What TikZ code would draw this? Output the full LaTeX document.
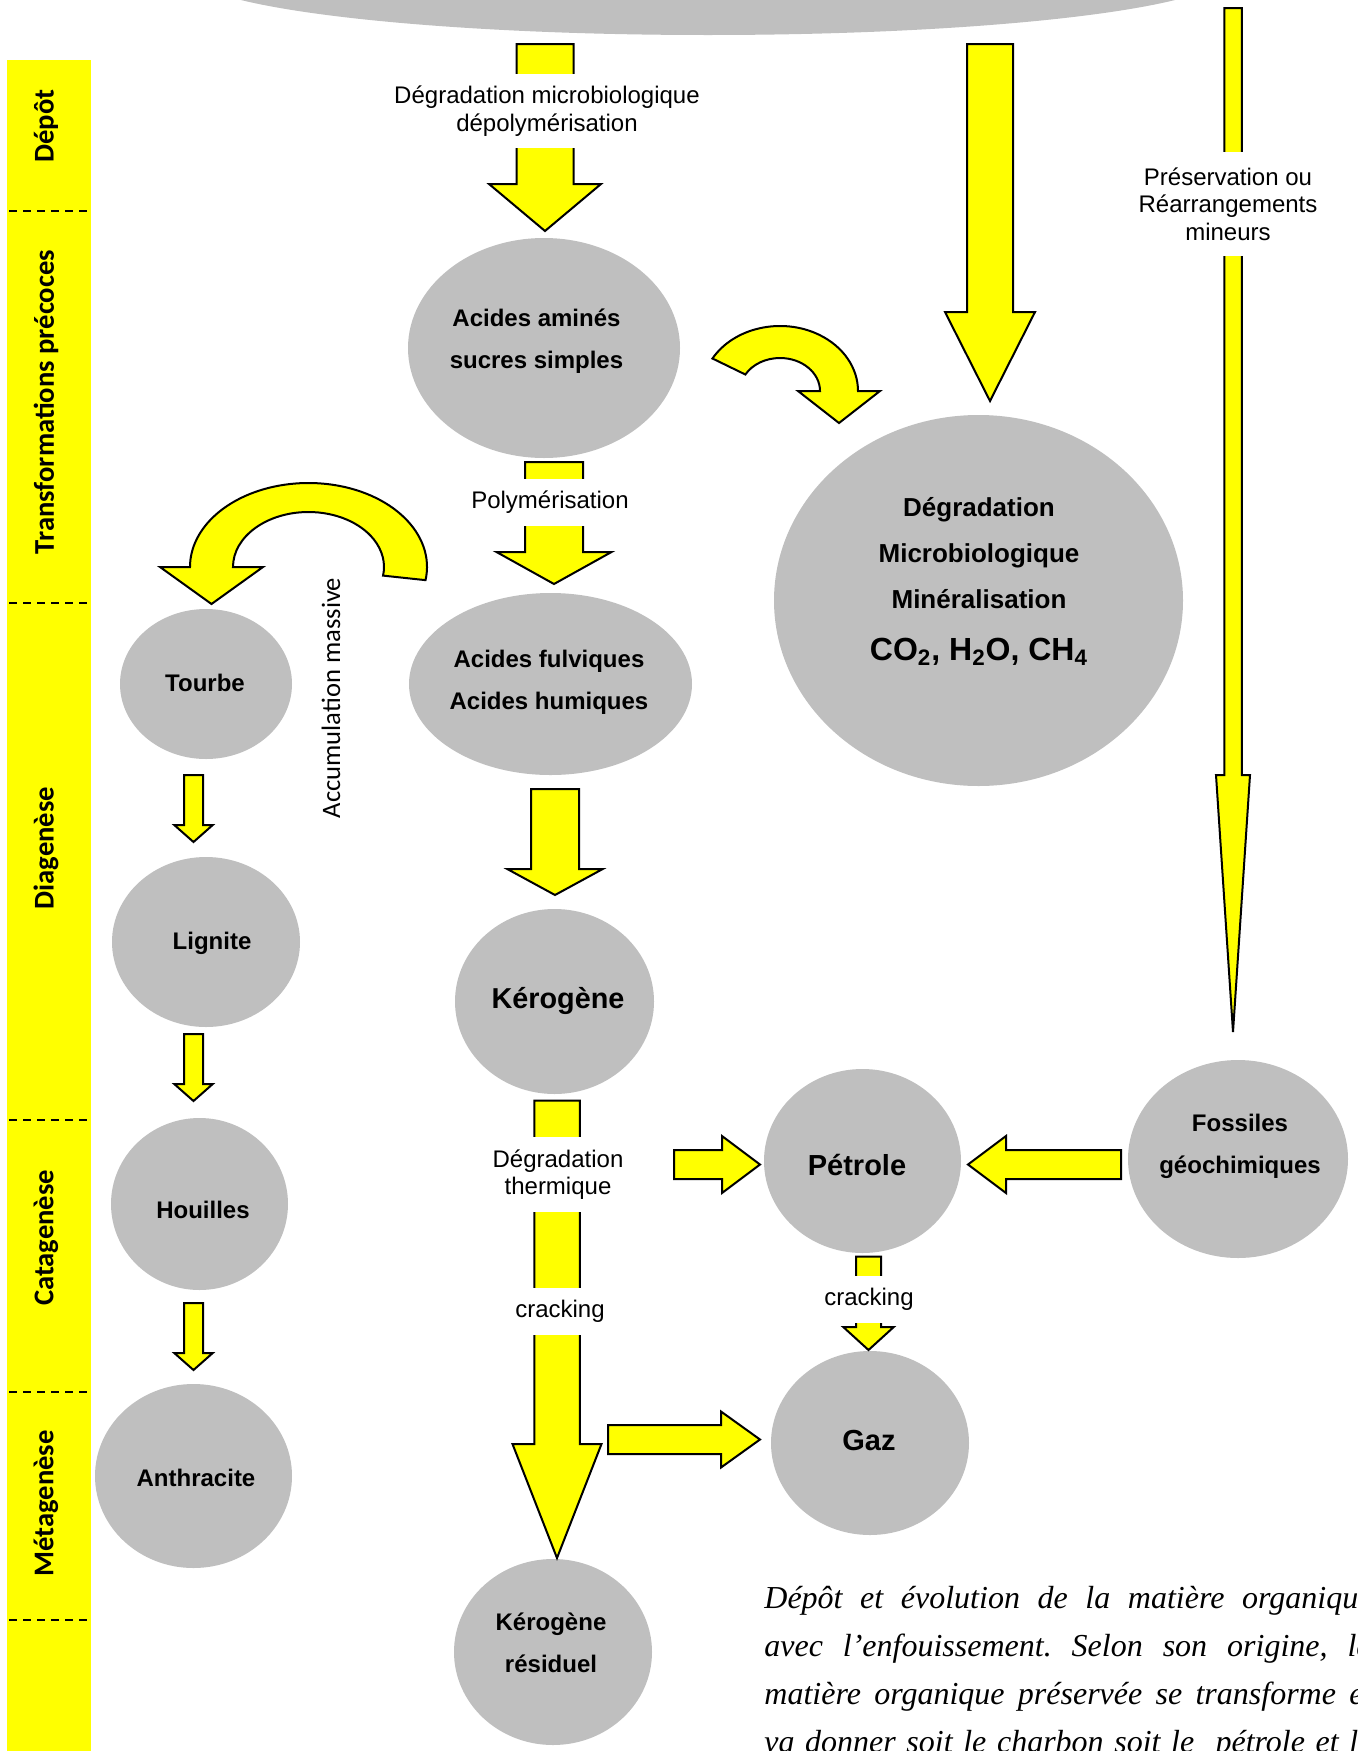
\documentclass[tikz,border=0pt]{standalone}
\usepackage{fontspec}
\setmainfont{Liberation Sans}
\newfontfamily\calibri{Carlito}
\newfontfamily\legendefont{Liberation Serif}
\usetikzlibrary{calc,shapes.geometric}
\definecolor{jaune}{RGB}{255,255,0}
\definecolor{gris}{RGB}{191,191,191}
\tikzset{
  >=latex,
}
\tikzstyle{bulle}=[ellipse,fill=gris,inner sep=0pt,outer sep=0pt]
\tikzstyle{fleche}=[fill=jaune,draw=black,line width=1pt,line join=miter]
\tikzstyle{gras}=[font=\fontsize{12}{21}\selectfont\bfseries,align=center,inner sep=0pt]
\tikzstyle{etiq}=[fill=white,font=\fontsize{12}{13.75}\selectfont,align=center,inner xsep=3pt,inner ysep=0pt]
\tikzstyle{phase}=[rotate=90,font=\fontsize{14.3}{16}\selectfont\calibri\bfseries]
\tikzstyle{legende}=[anchor=base west,inner sep=0pt,font=\fontsize{16}{24}\selectfont\legendefont\itshape]
% depart, pointe, demi-largeur, demi-tete, longueur de tete (en px)
\newcommand{\flechebloc}[5]{%
  \draw[fleche] let \p1=#1, \p2=#2,
      \n1={atan2(\y2-\y1,\x2-\x1)}, \n2={veclen(\x2-\x1,\y2-\y1)} in
    {[shift={(\p1)},rotate=\n1]
    (0pt,#3*0.5pt) -- (\n2+0pt-#5*0.5pt,#3*0.5pt) -- (\n2+0pt-#5*0.5pt,#4*0.5pt) -- (\n2+0pt,0pt)
    -- (\n2+0pt-#5*0.5pt,-#4*0.5pt) -- (\n2+0pt-#5*0.5pt,-#3*0.5pt) -- (0pt,-#3*0.5pt) -- cycle};
}

\begin{document}
\frenchspacing
\begin{tikzpicture}[x=0.5pt,y=-0.5pt]
    \useasboundingbox (0,0) rectangle (1357,1751);
    \clip (0,0) rectangle (1357,1751);
    \fill[jaune] (7,60) rectangle (91,1751);
    \foreach \y in {210.5,603,1120,1391.5,1619.5}
      \draw[dash pattern=on 4pt off 3pt,line width=1pt] (9,\y) -- (87,\y);
    \node[phase] (ph1) at (46,126) {Dépôt};
    \node[phase] (ph2) at (46,402) {Transformations précoces};
    \node[phase] (ph3) at (46,848) {Diagenèse};
    \node[phase] (ph4) at (46,1238) {Catagenèse};
    \node[phase] (ph5) at (46,1503.5) {Métagenèse};

    \node[bulle,minimum width=520pt,minimum height=62.5pt] (mo) at (708,-27.5) {};
    \node[bulle,minimum width=136pt,minimum height=110pt] (aa) at (544,348) {};
    \node[bulle,minimum width=204.5pt,minimum height=185.5pt] (dm) at (978.5,600.5) {};
    \node[bulle,minimum width=86pt,minimum height=75pt] (tb) at (206,684) {};
    \node[bulle,minimum width=141.5pt,minimum height=91pt] (af) at (550.5,684) {};
    \node[bulle,minimum width=94pt,minimum height=85pt] (li) at (206,942) {};
    \node[bulle,minimum width=99.5pt,minimum height=92.5pt] (ke) at (554.5,1001.5) {};
    \node[bulle,minimum width=88.5pt,minimum height=86pt] (ho) at (199.5,1204) {};
    \node[bulle,minimum width=98.5pt,minimum height=92pt] (an) at (193.5,1476) {};
    \node[bulle,minimum width=99pt,minimum height=93pt] (kr) at (553,1652) {};
    \node[bulle,minimum width=98.5pt,minimum height=92pt] (pe) at (862.5,1161) {};
    \node[bulle,minimum width=99pt,minimum height=92pt] (ga) at (870,1443) {};
    \node[bulle,minimum width=110pt,minimum height=99pt] (fg) at (1238,1159) {};

    \node[gras] (aa-t) at (536.5,341) {Acides aminés\\sucres simples};
    \node[gras,font=\fontsize{13}{23}\selectfont\bfseries] (dm-t) at (979,553) {Dégradation\\Microbiologique\\Minéralisation};
    \node[gras,font=\fontsize{16}{18}\selectfont\bfseries] (dm-f) at (979,652) {CO\textsubscript{2}, H\textsubscript{2}O, CH\textsubscript{4}};
    \node[gras] (tb-t) at (205,683) {Tourbe};
    \node[gras] (af-t) at (549,682) {Acides fulviques\\Acides humiques};
    \node[gras] (li-t) at (212,943) {Lignite};
    \node[gras,font=\fontsize{14.4}{16}\selectfont\bfseries] (ke-t) at (558,1001) {Kérogène};
    \node[gras] (ho-t) at (203,1210) {Houilles};
    \node[gras] (an-t) at (196,1478) {Anthracite};
    \node[gras] (kr-t) at (551,1643) {Kérogène\\résiduel};
    \node[gras,font=\fontsize{14.5}{16}\selectfont\bfseries] (pe-t) at (857,1165) {Pétrole};
    \node[gras,font=\fontsize{14.5}{16}\selectfont\bfseries] (ga-t) at (869,1440) {Gaz};
    \node[gras] (fg-t) at (1240,1146) {Fossiles\\géochimiques};

    \flechebloc{($(aa.north |- mo.south)+(1,9)$)}{($(aa.north)+(1,-7)$)}{28.5}{56}{47}
    \flechebloc{($(dm.north |- mo.south)+(11.5,9)$)}{($(dm.north)+(11.5,-14)$)}{23}{45}{89}
    \flechebloc{($(fg.north |- mo.south)+(-5,-27)$)}{($(fg.north)+(-5,-28)$)}{8.75}{17}{257}
    \flechebloc{($(aa.south)+(10,4)$)}{($(af.north)+(3.5,-9)$)}{29}{57.5}{32}
    \flechebloc{($(af.south)+(4.5,14)$)}{($(ke.north)+(0.5,-14)$)}{24}{47.75}{26}
    \flechebloc{($(ke.south)+(2.5,6.5)$)}{($(kr.north)+(4,-1)$)}{22.75}{44.5}{114}
    \flechebloc{($(tb.south)+(-12.5,16)$)}{($(li.north)+(-12.5,-15)$)}{9.5}{19.25}{17}
    \flechebloc{($(li.south)+(-12.5,7)$)}{($(ho.north)+(-6,-17)$)}{9.5}{19.25}{17}
    \flechebloc{($(ho.south)+(-6,13)$)}{($(an.north)+(0,-14)$)}{9.5}{19.25}{17}
    \flechebloc{($(pe.west)+(-90,3.5)$)}{($(pe.west)+(-4,3.5)$)}{14.5}{28.5}{38}
    \flechebloc{($(fg.west)+(-7,5.5)$)}{($(pe.east)+(7,3.5)$)}{14.5}{28.5}{38}
    \flechebloc{($(pe.south)+(6,3.5)$)}{($(ga.north)+(-1.5,-1)$)}{12.5}{25.25}{23}
    \flechebloc{($(ga.west)+(-163,-3.5)$)}{($(ga.west)+(-11,-3.5)$)}{14.5}{28}{39}

    \coordinate (c1) at ($(tb.north)+(102.5,-42)$);
    \draw[fleche] (c1) ++(9:118.5 and 84) arc (9:-180:118.5 and 84) -- ++(-30,0) -- ++(51.5,37)
      -- ++(51.5,-37) -- ++(-30,0) arc (-180:9:75.5 and 55) -- cycle;
    \coordinate (c2) at ($(aa.east)+(100,43)$);
    \draw[fleche] (c2) ++(-150:78 and 65) arc (-150:0:78 and 65) -- ++(22,0) -- ++(-41,32)
      -- ++(-41,-32) -- ++(22,0) arc (0:-150:40 and 33) -- cycle;

    \node[etiq,minimum height=37pt] (l1) at (547,111) {Dégradation microbiologique\\dépolymérisation};
    \node[etiq,minimum height=52pt] (l2) at (1228,204) {Préservation ou\\Réarrangements\\mineurs};
    \node[etiq,minimum height=23.5pt] (l3) at (550,502) {Polymérisation};
    \node[etiq,minimum height=37.5pt] (l4) at (558,1174.5) {Dégradation\\thermique};
    \node[etiq,minimum height=23.5pt] (l5) at (560,1311) {cracking};
    \node[etiq,minimum height=23.5pt] (l6) at (869,1299) {cracking};
    \node[rotate=90,font=\fontsize{13.3}{15}\selectfont\calibri] (acc) at (331,698) {Accumulation massive};

    \node[legende] (lg1) at (764,1608) {\makebox[304pt][s]{Dépôt et évolution de la matière organique}};
    \node[legende] (lg2) at (764,1656) {\makebox[304pt][s]{avec l’enfouissement. Selon son origine, la}};
    \node[legende] (lg3) at (764,1704) {\makebox[304pt][s]{matière organique préservée se transforme et}};
    \node[legende] (lg4) at (764,1752) {\makebox[304pt][s]{va donner soit le charbon soit le~ pétrole et le}};
\end{tikzpicture}
\end{document}
